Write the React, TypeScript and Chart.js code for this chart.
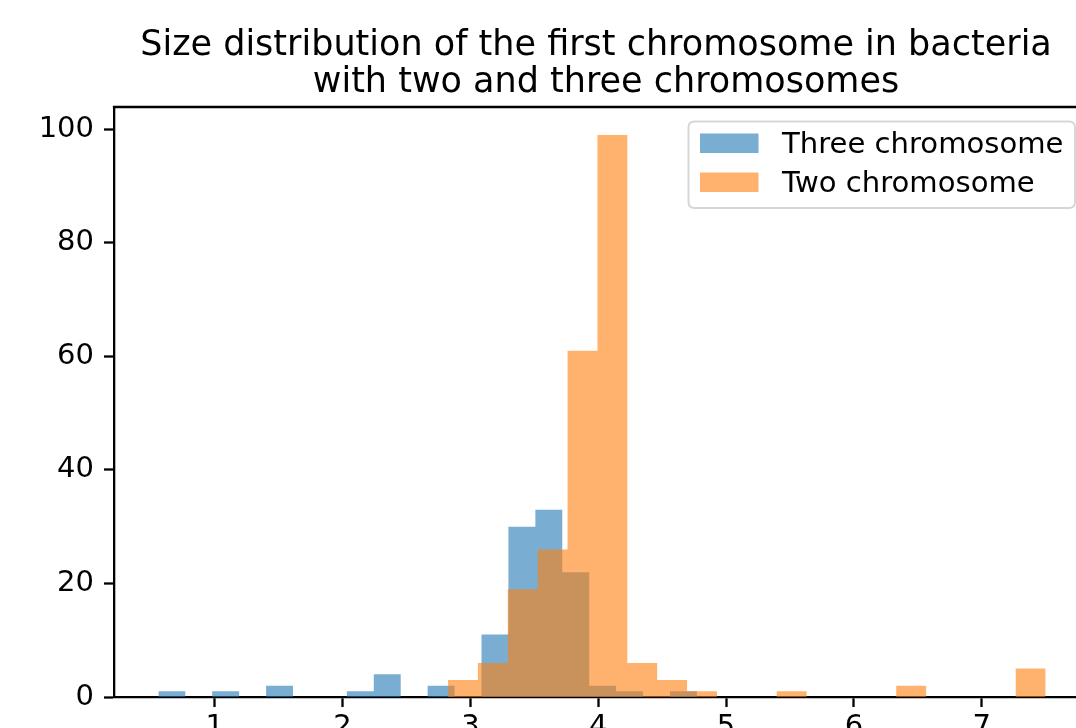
import React, { useEffect, useRef } from "react";
import { Chart, registerables } from "chart.js";

Chart.register(...registerables);

// ---- data ----
const titleLines = [
  "Size distribution of the first chromosome in bacteria",
  "with two and three chromosomes",
];
const seriesNames = ["Three chromosome", "Two chromosome"];
// histogram ranges (first / last bin edge) and counts, 20 bins each
const threeRange = [0.559, 4.772];
const threeCounts = [1, 0, 1, 0, 2, 0, 0, 1, 4, 0, 2, 0, 11, 30, 33, 22, 2, 1, 0, 1];
const twoRange = [2.825, 7.5];
const twoCounts = [3, 6, 19, 26, 61, 99, 6, 3, 1, 0, 0, 1, 0, 0, 0, 2, 0, 0, 0, 5];
const xTicks = [1, 2, 3, 4, 5, 6, 7];
const yTicks = [0, 20, 40, 60, 80, 100];

const blueFill = "rgba(31,119,180,0.6)";
const orangeFill = "rgba(255,127,14,0.6)";
const FONT = "'DejaVu Sans', sans-serif";

function binEdges(range: number[], n: number) {
  return Array.from({ length: n + 1 }, (_, i) => range[0] + ((range[1] - range[0]) * i) / n);
}

function stepPoints(range: number[], counts: number[]) {
  const e = binEdges(range, counts.length);
  const pts = counts.map((c, i) => ({ x: e[i], y: c }));
  pts.push({ x: e[counts.length], y: counts[counts.length - 1] });
  return pts;
}

const W = 1110;
const H = 770;

const decor = {
  id: "decor",
  afterDraw(chart: any) {
    const { ctx, chartArea: a } = chart;
    ctx.save();
    // top and right spines
    ctx.strokeStyle = "#000";
    ctx.lineWidth = 2.3;
    ctx.beginPath();
    ctx.moveTo(a.left - 1.15, a.top);
    ctx.lineTo(a.right, a.top);
    ctx.lineTo(a.right, a.bottom);
    ctx.stroke();

    // title
    ctx.fillStyle = "#000";
    ctx.font = `35px ${FONT}`;
    ctx.textAlign = "center";
    ctx.textBaseline = "alphabetic";
    ctx.fillText(titleLines[0], 596, 55);
    ctx.fillText(titleLines[1], 606, 91.5);

    // legend
    const lx = 688.5, ly = 121.5, lw = 386.5, lh = 86.5, r = 6;
    ctx.beginPath();
    ctx.moveTo(lx + r, ly);
    ctx.lineTo(lx + lw - r, ly);
    ctx.quadraticCurveTo(lx + lw, ly, lx + lw, ly + r);
    ctx.lineTo(lx + lw, ly + lh - r);
    ctx.quadraticCurveTo(lx + lw, ly + lh, lx + lw - r, ly + lh);
    ctx.lineTo(lx + r, ly + lh);
    ctx.quadraticCurveTo(lx, ly + lh, lx, ly + lh - r);
    ctx.lineTo(lx, ly + r);
    ctx.quadraticCurveTo(lx, ly, lx + r, ly);
    ctx.closePath();
    ctx.fillStyle = "rgba(255,255,255,0.8)";
    ctx.fill();
    ctx.strokeStyle = "rgba(204,204,204,0.8)";
    ctx.lineWidth = 2;
    ctx.stroke();

    ctx.fillStyle = blueFill;
    ctx.fillRect(700, 133.5, 58.5, 19.5);
    ctx.fillStyle = orangeFill;
    ctx.fillRect(700, 172.5, 58.5, 19.5);

    ctx.fillStyle = "#000";
    ctx.font = `29.1px ${FONT}`;
    ctx.textAlign = "left";
    ctx.fillText(seriesNames[0], 782, 152.7);
    ctx.fillText(seriesNames[1], 782, 191.7);
    ctx.restore();
  },
};

export default function App() {
  const ref = useRef<HTMLCanvasElement | null>(null);

  useEffect(() => {
    document.body.style.margin = "0";
    const canvas = ref.current;
    if (!canvas) return;

    const lo = Math.min(threeRange[0], twoRange[0]);
    const hi = Math.max(threeRange[1], twoRange[1]);
    const span = hi - lo;
    const xMin = lo - 0.05 * span;
    const xMax = hi + 0.05 * span;
    const yMax = Math.max(...threeCounts, ...twoCounts) * 1.05;

    const tickFont = { family: FONT, size: 29 };

    const chart = new Chart(canvas, {
      type: "line",
      data: {
        datasets: [
          {
            label: seriesNames[0],
            data: stepPoints(threeRange, threeCounts),
            stepped: true,
            fill: "origin",
            backgroundColor: blueFill,
            borderColor: "rgba(0,0,0,0)",
            borderWidth: 0,
            pointRadius: 0,
            pointHoverRadius: 0,
            order: 2,
          },
          {
            label: seriesNames[1],
            data: stepPoints(twoRange, twoCounts),
            stepped: true,
            fill: "origin",
            backgroundColor: orangeFill,
            borderColor: "rgba(0,0,0,0)",
            borderWidth: 0,
            pointRadius: 0,
            pointHoverRadius: 0,
            order: 1,
          },
        ],
      },
      options: {
        responsive: false,
        animation: false,
        devicePixelRatio: 1,
        events: [],
        layout: { padding: { top: 107, left: 0, right: W - 1090, bottom: 0 } },
        plugins: {
          legend: { display: false },
          title: { display: false },
          tooltip: { enabled: false },
        },
        scales: {
          x: {
            type: "linear",
            min: xMin,
            max: xMax,
            afterBuildTicks: (s: any) => {
              s.ticks = xTicks.map((v) => ({ value: v }));
            },
            afterFit: (s: any) => {
              s.height = H - 697;
            },
            grid: {
              display: true,
              drawOnChartArea: false,
              drawTicks: true,
              tickLength: 10,
              tickWidth: 2.3,
              tickColor: "#000",
            },
            border: { display: true, color: "#000", width: 2.3 },
            ticks: {
              color: "#000",
              font: tickFont,
              padding: 3,
              maxRotation: 0,
              autoSkip: false,
              callback: (v: any) => String(v),
            },
          },
          y: {
            type: "linear",
            min: 0,
            max: yMax,
            afterBuildTicks: (s: any) => {
              s.ticks = yTicks.map((v) => ({ value: v }));
            },
            afterFit: (s: any) => {
              s.width = 114;
            },
            grid: {
              display: true,
              drawOnChartArea: false,
              drawTicks: true,
              tickLength: 10,
              tickWidth: 2.3,
              tickColor: "#000",
            },
            border: { display: true, color: "#000", width: 2.3 },
            ticks: {
              color: "#000",
              font: tickFont,
              padding: 10,
              autoSkip: false,
              callback: (v: any) => String(v),
            },
          },
        },
      },
      plugins: [decor],
    } as any);

    return () => chart.destroy();
  }, []);

  return (
    <div
      style={{
        position: "fixed",
        left: 0,
        top: 0,
        width: 1076,
        height: 728,
        overflow: "hidden",
        background: "#fff",
      }}
    >
      <canvas ref={ref} width={W} height={H} style={{ display: "block" }} />
    </div>
  );
}
